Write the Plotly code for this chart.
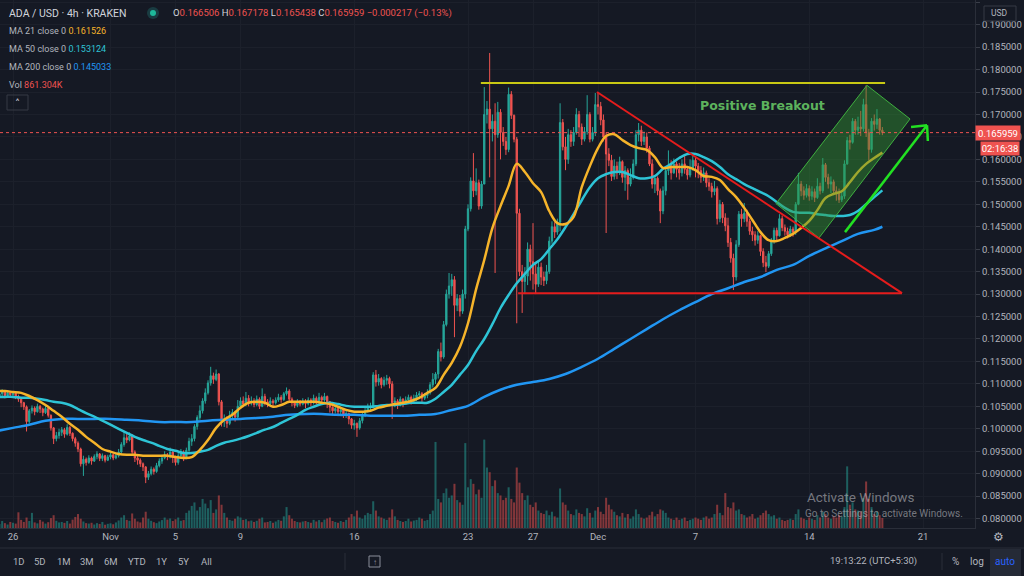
import plotly.graph_objects as go
import pandas as pd

# ---------------- DATA (prices in units of 0.0001 USD) ----------------
first_open = 1072
closes = [
    1078, 1082, 1074, 1080, 1076,                 # Oct 25 (04:00..20:00)
    1079, 1072, 1066, 1058, 1049, 1016,           # Oct 26
    1040, 1046, 1038, 1050, 1044, 1036,           # Oct 27
    1045, 1030, 1002, 978, 985, 992,              # Oct 28
    998, 988, 1003, 990, 978, 968,                # Oct 29
    955, 922, 932, 925, 935, 928,                 # Oct 30
    938, 944, 934, 940, 930, 937,                 # Oct 31
    942, 935, 940, 948, 965, 980,                 # Nov 1
    975, 984, 948, 935, 930, 922,                 # Nov 2
    915, 892, 900, 910, 905, 918,                 # Nov 3
    928, 935, 942, 938, 948, 936,                 # Nov 4
    925, 940, 948, 936, 952, 972,                 # Nov 5
    978, 1005, 1025, 1040, 1062, 1080,            # Nov 6
    1102, 1118, 1110, 1122, 1060, 1018,           # Nov 7
    1022, 1012, 1030, 1036, 1026, 1050,           # Nov 8
    1062, 1055, 1068, 1058, 1062, 1054,           # Nov 9
    1066, 1050, 1072, 1060, 1056, 1062,           # Nov 10
    1058, 1064, 1070, 1065, 1078, 1084,           # Nov 11
    1066, 1058, 1052, 1060, 1055, 1062,           # Nov 12
    1056, 1064, 1058, 1068, 1062, 1070,           # Nov 13
    1064, 1072, 1060, 1048, 1040, 1045,           # Nov 14
    1038, 1042, 1030, 1034, 1022, 1008,           # Nov 15
    1012, 1002, 1018, 1030, 1040, 1046,           # Nov 16
    1050, 1120, 1104, 1112, 1098, 1108,           # Nov 17
    1112, 1100, 1058, 1062, 1052, 1066,           # Nov 18
    1058, 1064, 1070, 1062, 1068, 1075,           # Nov 19
    1078, 1068, 1074, 1080, 1098, 1110,           # Nov 20
    1122, 1172, 1160, 1232, 1300, 1318,           # Nov 21
    1332, 1275, 1290, 1262, 1300, 1445,           # Nov 22
    1490, 1552, 1530, 1548, 1496, 1545,           # Nov 23
    1700, 1712, 1668, 1685, 1655, 1705,           # Nov 24
    1660, 1640, 1622, 1745, 1698, 1645,           # Nov 25
    1480, 1350, 1328, 1340, 1400, 1372,           # Nov 26
    1345, 1322, 1360, 1338, 1330, 1350,           # Nov 27
    1418, 1450, 1438, 1460, 1682, 1628,           # Nov 28
    1600, 1655, 1640, 1660, 1700, 1672,           # Nov 29
    1645, 1662, 1700, 1645, 1660, 1722,           # Nov 30
    1718, 1688, 1650, 1612, 1598, 1562,           # Dec 1
    1585, 1570, 1595, 1560, 1575, 1545,           # Dec 2
    1560, 1590, 1655, 1665, 1640, 1650,           # Dec 3
    1625, 1590, 1545, 1558, 1530, 1485,           # Dec 4
    1530, 1575, 1585, 1570, 1590, 1578,           # Dec 5
    1570, 1590, 1578, 1565, 1580, 1598,           # Dec 6
    1585, 1575, 1560, 1570, 1548, 1540,           # Dec 7
    1528, 1535, 1468, 1500, 1470, 1452,           # Dec 8
    1415, 1380, 1338, 1410, 1478, 1468,           # Dec 9
    1480, 1462, 1440, 1432, 1420, 1430,           # Dec 10
    1395, 1370, 1362, 1390, 1420, 1442,           # Dec 11
    1430, 1468, 1448, 1440, 1432, 1445,           # Dec 12
    1438, 1500, 1545, 1530, 1520, 1535,           # Dec 13
    1518, 1528, 1515, 1540, 1530, 1588,           # Dec 14
    1560, 1545, 1550, 1530, 1525, 1510,           # Dec 15
    1518, 1590, 1642, 1638, 1685, 1665,           # Dec 16
    1672, 1668, 1722, 1660, 1622, 1685,           # Dec 17
    1678, 1690, 1665, 1660,                       # Dec 18
]
highs = [
    1085, 1088, 1084, 1086, 1083,
    1084, 1082, 1076, 1069, 1060, 1052,
    1044, 1052, 1050, 1056, 1053, 1047,
    1052, 1048, 1032, 1004, 993, 1000,
    1004, 1002, 1010, 1006, 992, 982,
    972, 958, 940, 936, 941, 938,
    943, 950, 946, 945, 942, 942,
    947, 944, 946, 955, 970, 995,
    990, 992, 988, 952, 940, 934,
    925, 917, 906, 916, 914, 924,
    934, 942, 950, 946, 958, 950,
    940, 946, 955, 952, 958, 980,
    988, 1010, 1030, 1052, 1068, 1090,
    1108, 1138, 1125, 1132, 1124, 1064,
    1032, 1028, 1040, 1044, 1040, 1064,
    1070, 1072, 1082, 1075, 1072, 1068,
    1074, 1070, 1090, 1078, 1066, 1070,
    1066, 1070, 1078, 1075, 1082, 1092,
    1088, 1070, 1062, 1066, 1064, 1068,
    1066, 1070, 1068, 1076, 1072, 1080,
    1074, 1080, 1074, 1062, 1050, 1052,
    1050, 1048, 1044, 1040, 1036, 1024,
    1020, 1014, 1024, 1036, 1048, 1056,
    1058, 1126, 1131, 1122, 1115, 1116,
    1120, 1116, 1106, 1070, 1066, 1072,
    1068, 1072, 1076, 1074, 1076, 1082,
    1084, 1082, 1080, 1088, 1104, 1124,
    1126, 1178, 1192, 1240, 1310, 1347,
    1345, 1340, 1300, 1298, 1310, 1452,
    1500, 1560, 1614, 1580, 1555, 1552,
    1761, 1730, 1837, 1700, 1725, 1728,
    1712, 1672, 1650, 1760, 1752, 1700,
    1650, 1490, 1365, 1360, 1415, 1410,
    1458, 1368, 1375, 1370, 1350, 1365,
    1428, 1462, 1460, 1468, 1725, 1690,
    1650, 1668, 1665, 1672, 1714, 1708,
    1680, 1672, 1743, 1705, 1672, 1748,
    1748, 1728, 1700, 1660, 1625, 1610,
    1600, 1595, 1606, 1598, 1585, 1580,
    1580, 1600, 1665, 1681, 1675, 1662,
    1660, 1630, 1600, 1565, 1562, 1535,
    1540, 1580, 1620, 1598, 1602, 1595,
    1592, 1600, 1610, 1585, 1600, 1608,
    1605, 1592, 1585, 1582, 1575, 1558,
    1548, 1552, 1540, 1510, 1505, 1480,
    1470, 1425, 1390, 1420, 1485, 1490,
    1503, 1488, 1468, 1450, 1440, 1440,
    1432, 1402, 1385, 1396, 1425, 1448,
    1448, 1478, 1475, 1455, 1448, 1452,
    1450, 1505, 1570, 1552, 1540, 1545,
    1542, 1540, 1535, 1558, 1548, 1603,
    1592, 1568, 1562, 1555, 1540, 1535,
    1530, 1598, 1650, 1655, 1692, 1690,
    1695, 1708, 1735, 1765, 1668, 1692,
    1700, 1712, 1692, 1672,
]
lows = [
    1070, 1073, 1068, 1071, 1070,
    1071, 1066, 1060, 1048, 1042, 994,
    1012, 1034, 1030, 1036, 1035, 1028,
    1033, 1025, 996, 966, 972, 978,
    984, 980, 985, 984, 972, 960,
    948, 916, 895, 918, 922, 920,
    926, 932, 928, 928, 925, 928,
    932, 930, 932, 936, 945, 960,
    968, 972, 944, 926, 920, 915,
    906, 879, 886, 896, 898, 902,
    914, 922, 932, 930, 934, 924,
    918, 920, 934, 928, 932, 948,
    962, 972, 998, 1020, 1034, 1056,
    1076, 1096, 1100, 1106, 1052, 1005,
    1004, 1002, 1008, 1022, 1016, 1022,
    1046, 1048, 1050, 1050, 1052, 1048,
    1050, 1044, 1048, 1052, 1048, 1052,
    1050, 1054, 1060, 1058, 1062, 1074,
    1060, 1050, 1046, 1048, 1050, 1052,
    1046, 1052, 1050, 1054, 1054, 1058,
    1056, 1060, 1046, 1036, 1030, 1034,
    1028, 1030, 1024, 1024, 1010, 1000,
    998, 982, 998, 1012, 1026, 1036,
    1038, 1046, 1094, 1096, 1090, 1094,
    1098, 1090, 1022, 1048, 1044, 1050,
    1048, 1054, 1058, 1054, 1058, 1062,
    1066, 1060, 1064, 1068, 1076, 1092,
    1100, 1112, 1150, 1156, 1228, 1290,
    1296, 1204, 1262, 1250, 1256, 1290,
    1440, 1484, 1516, 1520, 1488, 1490,
    1545, 1680, 1560, 1640, 1347, 1648,
    1600, 1630, 1610, 1616, 1690, 1638,
    1235, 1340, 1258, 1300, 1320, 1330,
    1310, 1300, 1316, 1320, 1318, 1322,
    1345, 1412, 1425, 1432, 1440, 1620,
    1576, 1590, 1628, 1630, 1655, 1650,
    1632, 1640, 1655, 1638, 1640, 1652,
    1700, 1676, 1640, 1436, 1585, 1552,
    1555, 1556, 1565, 1548, 1530, 1510,
    1540, 1555, 1585, 1640, 1630, 1632,
    1615, 1585, 1535, 1525, 1520, 1458,
    1478, 1520, 1565, 1555, 1568, 1560,
    1555, 1562, 1568, 1555, 1560, 1575,
    1560, 1558, 1548, 1552, 1538, 1530,
    1515, 1520, 1455, 1460, 1458, 1440,
    1405, 1370, 1309, 1330, 1405, 1450,
    1460, 1450, 1432, 1418, 1408, 1412,
    1385, 1360, 1349, 1358, 1385, 1412,
    1420, 1428, 1440, 1430, 1424, 1428,
    1428, 1432, 1498, 1518, 1510, 1515,
    1508, 1510, 1505, 1512, 1522, 1525,
    1550, 1535, 1525, 1520, 1508, 1503,
    1505, 1512, 1588, 1622, 1635, 1655,
    1655, 1652, 1662, 1650, 1598, 1615,
    1664, 1668, 1655, 1654,
]
volumes_k = [
    350, 600, 420, 300, 520,
    450, 380, 1350, 700, 520, 900,
    600, 1300, 480, 400, 700, 550,
    380, 500, 850, 1100, 620, 480,
    520, 440, 600, 380, 720, 950,
    1200, 800, 560, 420, 380, 450,
    300, 420, 350, 520, 280, 360,
    400, 320, 480, 650, 900, 1100,
    700, 620, 1250, 800, 560, 480,
    900, 1400, 800, 620, 500, 420,
    560, 680, 900, 720, 820, 600,
    750, 900, 620, 680, 1300, 1500,
    1900, 2200, 1500, 1800, 2500, 2100,
    1700, 2400, 1300, 1600, 2800, 2000,
    1300, 900, 700, 620, 800, 1000,
    900, 700, 760, 580, 640, 520,
    620, 800, 900, 480, 520, 600,
    450, 560, 700, 620, 1000, 1800,
    1100, 800, 600, 520, 480, 560,
    600, 520, 450, 700, 560, 680,
    500, 720, 820, 900, 600, 520,
    450, 600, 520, 700, 900, 1200,
    1000, 1500, 900, 800, 1100, 1300,
    1200, 2300, 1500, 1000, 900, 800,
    700, 900, 1600, 1000, 700, 600,
    520, 600, 800, 560, 640, 700,
    900, 800, 620, 700, 1200, 1500,
    7400, 2500, 2200, 3000, 3400, 2600,
    2800, 3800, 2400, 2200, 2000, 7300,
    3500, 4200, 3800, 2900, 3300, 2600,
    7600, 5200, 4800, 3600, 4100, 3000,
    2800, 2400, 2600, 3500, 2500, 2200,
    5200, 3900, 3000, 2400, 2800, 2000,
    1800, 2200, 1500, 1300, 1200, 1500,
    1100, 1400, 1000, 900, 3400, 2200,
    2000, 1500, 1200, 1100, 1600, 1300,
    1200, 1000, 1700, 1300, 900, 1500,
    1800, 1400, 1200, 2600, 2000, 1600,
    1400, 1100, 1000, 1300, 900, 1200,
    800, 1000, 1600, 1200, 900, 800,
    900, 1100, 1400, 1000, 1200, 1600,
    1500, 1300, 900, 800, 700, 900,
    700, 800, 900, 600, 700, 800,
    900, 800, 700, 900, 1000, 800,
    900, 1200, 2000, 1300, 1100, 3000,
    1800, 1700, 2200, 1500, 1600, 1200,
    1100, 900, 1000, 1200, 800, 900,
    1100, 1300, 1500, 1200, 1000, 1100,
    800, 900, 700, 600, 700, 800,
    700, 1200, 1600, 900, 800, 700,
    900, 800, 700, 1100, 900, 1400,
    1200, 900, 800, 1000, 900, 1100,
    1000, 1800, 5300, 2000, 2200, 1600,
    1500, 1400, 2600, 4000, 2500, 1800,
    1200, 1400, 1100, 861,
]
# moving averages, read every 12h from 2020-10-25 00:00
ma21 = [
    1084, 1084, 1082, 1080, 1073, 1064, 1053, 1040, 1027, 1011, 998, 982, 969, 955,
    949, 944, 942, 942, 940, 940, 940, 940, 937, 935, 937, 953, 975, 1002, 1020, 1031,
    1047, 1058, 1060, 1058, 1049, 1053, 1060, 1060, 1060, 1060, 1058, 1055, 1049, 1042,
    1038, 1038, 1040, 1047, 1051, 1055, 1058, 1062, 1069, 1080, 1091, 1120, 1147, 1182,
    1235, 1311, 1376, 1447, 1496, 1541, 1590, 1572, 1547, 1527, 1485, 1458, 1456, 1472,
    1538, 1585, 1625, 1652, 1656, 1643, 1632, 1625, 1621, 1605, 1581, 1583, 1583, 1583,
    1576, 1563, 1561, 1554, 1534, 1516, 1492, 1465, 1438, 1420, 1418, 1425, 1434, 1447,
    1463, 1487, 1514, 1523, 1529, 1549, 1572, 1590, 1603, 1615,
]
ma50 = [
    1071, 1071, 1071, 1069, 1069, 1067, 1064, 1060, 1058, 1053, 1044, 1035, 1027, 1018,
    1009, 1000, 991, 982, 975, 969, 962, 955, 951, 946, 946, 949, 953, 962, 969, 973,
    978, 984, 991, 998, 1004, 1013, 1022, 1031, 1042, 1049, 1055, 1058, 1055, 1051,
    1049, 1049, 1049, 1051, 1053, 1053, 1055, 1058, 1058, 1058, 1067, 1082, 1098, 1120,
    1142, 1173, 1200, 1233, 1269, 1298, 1324, 1345, 1365, 1378, 1400, 1422, 1449, 1478,
    1509, 1538, 1558, 1567, 1572, 1572, 1565, 1558, 1558, 1563, 1579, 1590, 1603, 1612,
    1612, 1605, 1596, 1583, 1567, 1556, 1545, 1536, 1527, 1518, 1505, 1492, 1483, 1481,
    1481, 1478, 1476, 1474, 1474, 1476, 1485, 1500, 1516, 1531,
]
# MA 200 read daily from 2020-10-25, plus the last bar (Dec 18 12:00)
ma200 = [
    995, 1002, 1009, 1018, 1022, 1022, 1022,
    1022, 1020, 1018, 1015, 1015, 1015, 1018, 1020, 1022, 1024, 1027, 1031, 1033, 1033,
    1031, 1031, 1029, 1029, 1029, 1031, 1033, 1042, 1051, 1071, 1087, 1098, 1104, 1111,
    1122, 1138,
    1156, 1178, 1200, 1222, 1244, 1264, 1282, 1300, 1313, 1327, 1338, 1354, 1365, 1385,
    1402, 1418, 1434, 1443,
    1450,
]
last_price = 0.165959
legend_ohlc = ["0.166506", "0.167178", "0.165438", "0.165959"]
legend_change = "\u22120.000217 (\u22120.13%)"
legend_ma = ["0.161526", "0.153124", "0.145033"]
legend_vol = "861.304K"

time_tick_dates = ["2020-10-26", "2020-11-01", "2020-11-05", "2020-11-09", "2020-11-16",
                   "2020-11-23", "2020-11-27", "2020-12-01", "2020-12-07", "2020-12-14",
                   "2020-12-21"]
time_tick_labels = ["26", "Nov", "5", "9", "16", "23", "27", "Dec", "7", "14", "21"]

# drawings (date, price)
resistance_line = [("2020-11-23 19:00", 0.1770), ("2020-12-18 16:00", 0.1770)]
down_trend = [("2020-11-30 22:30", 0.1750), ("2020-12-19 17:00", 0.1302)]
support_line = [("2020-11-26 02:00", 0.1302), ("2020-12-19 17:00", 0.1302)]
channel = [("2020-12-11 22:50", 0.15015), ("2020-12-17 13:10", 0.1765),
           ("2020-12-20 04:50", 0.1690), ("2020-12-14 14:20", 0.1425)]
arrow_line = [("2020-12-16 04:50", 0.1438), ("2020-12-21 06:00", 0.1676)]
arrow_head = [("2020-12-20 06:20", 0.1672), ("2020-12-21 06:00", 0.1676), ("2020-12-21 07:10", 0.1641)]
breakout_label = ("2020-12-11 03:40", 0.1719, "Positive Breakout")

# ---------------- BUILD ----------------
assert len(closes) == len(highs) == len(lows) == len(volumes_k)
assert len(ma21) == len(ma50) == 110 and len(ma200) == 56

S = 1e-4
times = pd.date_range("2020-10-25 04:00", periods=len(closes), freq="4h")
c = [v * S for v in closes]
o = [first_open * S] + c[:-1]
hi = [max(v * S, a, b) for v, a, b in zip(highs, o, c)]
lo = [min(v * S, a, b) for v, a, b in zip(lows, o, c)]
vol_colors = ["rgba(38,166,154,0.5)" if cc >= oo else "rgba(239,83,80,0.5)" for oo, cc in zip(o, c)]

ma_times = pd.date_range("2020-10-25 00:00", periods=110, freq="12h")
ma200_times = list(pd.date_range("2020-10-25", "2020-12-18", freq="D")) + [pd.Timestamp("2020-12-18 12:00")]

BG = "#151924"
GRID = "#1c202b"
TXT = "#b2b5be"
FONT = "Roboto"
GREEN = "#26a69a"
RED = "#ef5350"

fig = go.Figure()
fig.add_trace(go.Bar(x=times, y=volumes_k, marker=dict(color=vol_colors, line=dict(width=0)),
                     yaxis="y", hoverinfo="skip"))
fig.add_trace(go.Candlestick(
    x=times, open=o, high=hi, low=lo, close=c, yaxis="y2",
    increasing=dict(line=dict(color=GREEN, width=1), fillcolor=GREEN),
    decreasing=dict(line=dict(color=RED, width=1), fillcolor=RED),
    whiskerwidth=0, hoverinfo="skip"))
fig.add_trace(go.Scatter(x=ma200_times, y=[v * S for v in ma200], yaxis="y2", mode="lines",
                         line=dict(color="#2196f3", width=2.5, shape="spline"), hoverinfo="skip"))
fig.add_trace(go.Scatter(x=ma_times, y=[v * S for v in ma50], yaxis="y2", mode="lines",
                         line=dict(color="#2ec4d6", width=2.5, shape="spline"), hoverinfo="skip"))
fig.add_trace(go.Scatter(x=ma_times, y=[v * S for v in ma21], yaxis="y2", mode="lines",
                         line=dict(color="#f6b42a", width=2.5, shape="spline"), hoverinfo="skip"))
fig.add_trace(go.Scatter(x=[p[0] for p in channel] + [channel[0][0]],
                         y=[p[1] for p in channel] + [channel[0][1]], yaxis="y2",
                         mode="lines", fill="toself", fillcolor="rgba(52,150,52,0.45)",
                         line=dict(color="#3fae3f", width=1), hoverinfo="skip"))


def seg(p0, p1, color, width, dash=None):
    return dict(type="line", xref="x", yref="y2", x0=p0[0], y0=p0[1], x1=p1[0], y1=p1[1],
                line=dict(color=color, width=width, dash=dash), layer="above")


shapes = [
    dict(type="line", xref="paper", yref="y2", x0=0, x1=1, y0=last_price, y1=last_price,
         line=dict(color=RED, width=1, dash="dot")),
    seg(*resistance_line, "#c8c814", 2),
    seg(*down_trend, "#e51c1c", 2),
    seg(*support_line, "#e51c1c", 2),
    seg(*arrow_line, "#22e022", 2.5),
    seg(arrow_head[0], arrow_head[1], "#22e022", 2.5),
    seg(arrow_head[1], arrow_head[2], "#22e022", 2.5),
]

PW, PH = 975.0, 528.0


def px(x):
    return x / PW


def py(y):
    return 1 - y / PH


# pixel-placed decorations (layout only)
shapes += [
    dict(type="line", xref="paper", yref="paper", x0=0, x1=px(1024), y0=py(548), y1=py(548),
         line=dict(color="#2a2e39", width=1)),
    dict(type="line", xref="paper", yref="paper", x0=px(345), x1=px(345), y0=py(553), y1=py(570),
         line=dict(color="#2a2e39", width=1)),
    dict(type="line", xref="paper", yref="paper", x0=px(942), x1=px(942), y0=py(553), y1=py(570),
         line=dict(color="#2a2e39", width=1)),
    dict(type="rect", xref="paper", yref="paper", x0=px(990), x1=px(1021), y0=py(549), y1=py(576),
         fillcolor="#252a36", line=dict(width=0)),
    dict(type="rect", xref="paper", yref="paper", x0=px(369), x1=px(380), y0=py(556), y1=py(567),
         line=dict(color="#8a8e99", width=1)),
    dict(type="rect", xref="paper", yref="paper", x0=px(7), x1=px(28), y0=py(95), y1=py(110),
         line=dict(color="#363a45", width=1)),
    dict(type="circle", xref="paper", yref="paper", x0=px(147), x1=px(159), y0=py(7), y1=py(19),
         fillcolor="rgba(38,166,154,0.25)", line=dict(width=0)),
    dict(type="circle", xref="paper", yref="paper", x0=px(150), x1=px(156), y0=py(10), y1=py(16),
         fillcolor="#1eb89a", line=dict(width=0)),
    dict(type="rect", xref="paper", yref="paper", x0=px(984), x1=px(1016), y0=py(6), y1=py(21),
         fillcolor=BG, line=dict(color="#363a45", width=1)),
]


def ann(text, x, y, size=9.5, color=TXT, anchor="left", **kw):
    return dict(text=text, x=px(x), y=py(y), xref="paper", yref="paper", xanchor=anchor,
                yanchor="middle", showarrow=False,
                font=dict(family=kw.pop("family", FONT), size=size, color=color), **kw)


def red(t):
    return "<span style='color:#ef5350'>" + t + "</span>"


annotations = [
    ann("ADA / USD \u00b7 4h \u00b7 KRAKEN", 7, 13, size=10.5, color="#d1d4dc"),
    ann("O" + red(legend_ohlc[0]) + " H" + red(legend_ohlc[1]) + " L" + red(legend_ohlc[2]) +
        " C" + red(legend_ohlc[3]) + " " + red(legend_change), 171, 13, size=9.5, color="#d1d4dc"),
    ann("MA 21 close 0 <span style='color:#f6b42a'>" + legend_ma[0] + "</span>", 7, 31, size=9),
    ann("MA 50 close 0 <span style='color:#2ec4d6'>" + legend_ma[1] + "</span>", 7, 49, size=9),
    ann("MA 200 close 0 <span style='color:#2196f3'>" + legend_ma[2] + "</span>", 7, 67, size=9),
    ann("Vol " + red(legend_vol), 7, 85, size=9),
    ann("\u02c4", 17.5, 103, size=10, color="#d1d4dc", anchor="center", family="DejaVu Sans"),
    ann("USD", 1000, 13.5, size=8.5, anchor="center"),
    dict(text=f"{last_price:.6f}", x=1.0, y=last_price, xref="paper", yref="y2", xanchor="left",
         yanchor="middle", showarrow=False, bgcolor=RED, width=44, height=14, borderpad=0,
         font=dict(family=FONT, size=9.5, color="#ffffff")),
    ann("02:16:38", 999.5, 148, size=9.5, color="#ffffff", anchor="center", bgcolor=RED,
        width=38, height=13, borderpad=0),
    dict(text="<b>" + breakout_label[2] + "</b>", x=breakout_label[0], y=breakout_label[1],
         xref="x", yref="y2", showarrow=False, xanchor="center", yanchor="middle",
         font=dict(family="DejaVu Sans", size=12.5, color="#5db35d")),
    ann("Activate Windows", 805, 497, size=13.5, color="rgba(200,200,205,0.55)"),
    ann("Go to Settings to activate Windows.", 803, 513, size=10, color="rgba(200,200,205,0.55)"),
    ann("\u2699", 998, 537, size=12, color=TXT, anchor="center", family="DejaVu Sans"),
    ann("19:13:22 (UTC+5:30)", 873, 561, size=9.5, anchor="center"),
    ann("%", 955, 561, size=10, anchor="center"),
    ann("log", 977, 561, size=10, anchor="center"),
    ann("auto", 1005, 561, size=10, color="#2962ff", anchor="center"),
]
for lab, xx in zip(["1D", "5D", "1M", "3M", "6M", "YTD", "1Y", "5Y", "All"],
                   [19, 40, 64, 87, 111, 137, 161, 183, 206]):
    annotations.append(ann(lab, xx, 561, size=9.5, anchor="center"))
annotations.append(ann("\u2191", 374.5, 562, size=8, anchor="center", color="#8a8e99"))

fig.update_layout(
    width=1024, height=576,
    margin=dict(l=0, r=49, t=0, b=48),
    paper_bgcolor=BG, plot_bgcolor=BG,
    showlegend=False, bargap=0.25,
    xaxis=dict(type="date", range=["2020-10-25 04:48", "2020-12-24 04:48"],
               tickvals=time_tick_dates, ticktext=time_tick_labels,
               showgrid=True, gridcolor=GRID, gridwidth=1,
               tickfont=dict(family=FONT, size=9.5, color=TXT),
               showline=True, linecolor="#2a2e39", ticks="", zeroline=False,
               rangeslider=dict(visible=False), fixedrange=True),
    yaxis=dict(range=[0, 45400], visible=False, showgrid=False, zeroline=False, fixedrange=True),
    yaxis2=dict(overlaying="y", side="right", range=[0.0779, 0.1955], dtick=0.005, tick0=0,
                tickformat=".6f", showgrid=True, gridcolor=GRID, gridwidth=1,
                tickfont=dict(family=FONT, size=9.5, color=TXT),
                showline=True, linecolor="#2a2e39", ticks="outside", ticklen=4,
                tickcolor="#3a3e49", zeroline=False, fixedrange=True),
    shapes=shapes, annotations=annotations,
)

fig.write_html(
    "out.html",
    config={"displayModeBar": False},
    post_script="document.body.style.margin='0';document.body.style.padding='0';"
                "document.body.style.overflow='hidden';document.body.style.background='#151924';",
)
